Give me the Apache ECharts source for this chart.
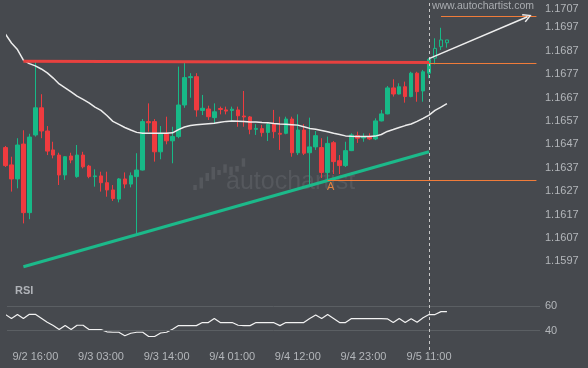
<!DOCTYPE html>
<html><head><meta charset="utf-8">
<script src="https://cdn.jsdelivr.net/npm/echarts@6/dist/echarts.min.js"></script>
<style>html,body{margin:0;padding:0;background:#46494e;}#c{width:588px;height:368px;}</style>
</head><body><div id="c"></div>
<script>
// ---- data ----
const tickLabels = ['9/2 16:00','9/3 03:00','9/3 14:00','9/4 01:00','9/4 12:00','9/4 23:00','9/5 11:00'];
const tickCandles = [5,16,27,38,49,60,71];
const priceTicks = [1.1597,1.1607,1.1617,1.1627,1.1637,1.1647,1.1657,1.1667,1.1677,1.1687,1.1697,1.1707];
const rsiLevels = [40,60];

const open = [1.16456,1.16382,1.16322,1.16471,1.16178,1.16510,1.16626,1.16527,1.16446,1.16424,
1.16339,1.16420,1.16332,1.16424,1.16377,1.16332,1.16335,1.16306,1.16275,1.16236,
1.16322,1.16300,1.16332,1.16360,1.16567,1.16567,1.16438,1.16517,1.16485,1.16503,
1.16638,1.16755,1.16759,1.16615,1.16621,1.16584,1.16623,1.16617,1.16615,1.16617,
1.16591,1.16587,1.16534,1.16537,1.16521,1.16556,1.16517,1.16517,1.16578,1.16434,
1.16531,1.16434,1.16459,1.16456,1.16350,1.16477,1.16400,1.16379,1.16443,1.16507,
1.16497,1.16503,1.16493,1.16570,1.16600,1.16711,1.16685,1.16716,1.16674,1.16774,
1.16698,1.16774,1.16838,1.16887,1.16916];
const close = [1.16379,1.16322,1.16467,1.16178,1.16501,1.16626,1.16527,1.16441,1.16424,1.16339,
1.16417,1.16403,1.16424,1.16374,1.16332,1.16335,1.16306,1.16275,1.16238,1.16322,
1.16300,1.16336,1.16360,1.16567,1.16562,1.16438,1.16517,1.16485,1.16503,1.16638,
1.16755,1.16759,1.16617,1.16624,1.16588,1.16609,1.16619,1.16612,1.16620,1.16592,
1.16587,1.16534,1.16538,1.16520,1.16556,1.16524,1.16513,1.16578,1.16434,1.16531,
1.16432,1.16459,1.16507,1.16350,1.16474,1.16396,1.16379,1.16443,1.16510,1.16496,
1.16501,1.16493,1.16570,1.16600,1.16711,1.16685,1.16716,1.16674,1.16774,1.16695,
1.16780,1.16833,1.16880,1.16916,1.16904];
const low = [1.16373,1.16268,1.16282,1.16132,1.16150,1.16503,1.16496,1.16424,1.16410,1.16296,
1.16318,1.16389,1.16327,1.16367,1.16325,1.16289,1.16268,1.16246,1.16228,1.16222,
1.16282,1.16286,1.16087,1.16358,1.16524,1.16396,1.16406,1.16470,1.16389,1.16496,
1.16626,1.16669,1.16588,1.16595,1.16574,1.16560,1.16598,1.16598,1.16570,1.16545,
1.16545,1.16513,1.16510,1.16503,1.16484,1.16496,1.16446,1.16513,1.16417,1.16424,
1.16424,1.16296,1.16446,1.16326,1.16318,1.16343,1.16343,1.16373,1.16441,1.16476,
1.16481,1.16488,1.16488,1.16568,1.16598,1.16674,1.16683,1.16648,1.16671,1.16652,
1.16652,1.16752,1.16812,1.16873,1.16883];
const high = [1.16463,1.16417,1.16496,1.16530,1.16515,1.16823,1.16684,1.16548,1.16481,1.16434,
1.16420,1.16434,1.16467,1.16438,1.16382,1.16363,1.16353,1.16353,1.16296,1.16326,
1.16350,1.16350,1.16432,1.16578,1.16645,1.16578,1.16548,1.16588,1.16545,1.16802,
1.16821,1.16774,1.16774,1.16681,1.16635,1.16645,1.16631,1.16631,1.16631,1.16631,
1.16698,1.16591,1.16556,1.16553,1.16564,1.16617,1.16588,1.16588,1.16588,1.16598,
1.16556,1.16584,1.16527,1.16496,1.16503,1.16484,1.16424,1.16481,1.16517,1.16524,
1.16517,1.16517,1.16581,1.16617,1.16719,1.16748,1.16731,1.16738,1.16780,1.16780,
1.16788,1.16838,1.16923,1.16968,1.16916];
const ma = [1.16941,1.16903,1.16875,1.16830,1.16815,1.16805,1.16792,1.16775,1.16753,1.16728,
1.16711,1.16694,1.16676,1.16662,1.16647,1.16629,1.16615,1.16593,1.16568,1.16555,
1.16542,1.16531,1.16521,1.16517,1.16517,1.16517,1.16517,1.16517,1.16519,1.16533,
1.16544,1.16550,1.16554,1.16556,1.16558,1.16560,1.16564,1.16568,1.16570,1.16569,
1.16567,1.16565,1.16565,1.16563,1.16562,1.16559,1.16557,1.16556,1.16554,1.16552,
1.16545,1.16538,1.16534,1.16529,1.16524,1.16517,1.16512,1.16506,1.16504,1.16503,
1.16503,1.16503,1.16505,1.16512,1.16525,1.16533,1.16542,1.16550,1.16557,1.16568,
1.16581,1.16595,1.16615,1.16629,1.16644];
const rsi = [53.2,49.9,53.2,49.9,53.4,53.4,50.1,46.8,44.1,40.8,
44.1,40.8,44.4,44.4,40.8,40.8,40.8,39.0,38.6,38.6,
35.7,37.8,38.6,38.6,35.1,35.1,38.0,38.6,41.1,44.1,
44.1,44.1,44.1,46.6,46.6,49.9,46.6,46.6,46.6,44.4,
44.1,44.1,46.6,46.6,46.6,46.5,44.1,46.6,46.6,46.6,
46.6,50.0,52.8,49.9,53.2,49.9,46.6,46.6,49.9,49.9,
49.9,49.9,49.9,49.9,49.7,46.6,49.9,46.6,49.8,46.8,
50.5,53.2,53.2,55.6,55.6];
const resistanceLine = [[3, 1.16825], [71, 1.16820]];
const supportLine = [[3, 1.15947], [71, 1.16438]];
const levelPrices = [1.17018, 1.16816, 1.16318];
const levelStarts = [73, 71, 54];
const levelEnd = 89;
const forecastArrow = [[71, 1.16836], [87.5, 1.17015]];
const breakoutIndex = 71;
const patternPoint = [54, 1.16318];

// ---- styling ----
const BG = '#46494e', UP = '#17b987', DOWN = '#ef3b3f', TXT = '#b3b6ba';
const FONT = '"Liberation Sans", Arial, sans-serif';
const xMin = 0.25, xMax = 89.6;
const yMin = 1.158816, yMax = 1.170867;

const candleData = open.map((o, i) => {
  const item = { value: [i, o, close[i], low[i], high[i]] };
  if (i > breakoutIndex) item.itemStyle = { color: BG, color0: BG, borderColor: UP, borderColor0: DOWN };
  return item;
});

const wmBars = [[193.3,185,5],[199.5,177.5,11],[205.5,173,8],[211.5,167,12.5],[217.3,170,5],[223.3,164.3,8.5],[229.3,166.7,8.3],[235.3,166,5.7],[241.7,158.3,8.4]];
const graphics = wmBars.map(b => ({ type:'rect', z:0, silent:true, shape:{x:b[0], y:b[1], width:3.5, height:b[2]}, style:{fill:'#55585d'} }));
graphics.push({ type:'text', z:0, silent:true, left:226, top:170, style:{ text:'autochartist', fill:'#55585d', font:'25px ' + FONT } });
graphics.push({ type:'text', z:5, silent:true, right:54, top:1, style:{ text:'www.autochartist.com', fill:'#a9acb0', font:'10.5px ' + FONT } });
graphics.push({ type:'text', z:5, silent:true, left:15, top:285, style:{ text:'RSI', fill:'#b0b3b8', font:'bold 11px ' + FONT } });

const topTick = priceTicks[priceTicks.length - 1];
const chart = echarts.init(document.getElementById('c'), null, { renderer: 'canvas' });
const axisBase = { axisLine:{show:false}, axisTick:{show:false}, splitLine:{show:false} };
chart.setOption({
  backgroundColor: BG,
  animation: false,
  textStyle: { fontFamily: FONT },
  graphic: graphics,
  grid: [
    { left: 7, right: 48, top: 0, height: 282, outerBoundsMode: 'none' },
    { left: 7, right: 48, top: 282, height: 68, outerBoundsMode: 'none' }
  ],
  xAxis: [
    Object.assign({ type:'value', gridIndex:0, min:xMin, max:xMax, axisLabel:{show:false} }, axisBase),
    Object.assign({ type:'value', gridIndex:1, min:xMin, max:xMax,
      axisLabel:{ customValues: tickCandles, formatter: v => { const k = tickCandles.indexOf(Math.round(v)); return k >= 0 ? tickLabels[k] : ''; },
        color: TXT, fontSize: 11, margin: 1, fontFamily: FONT } }, axisBase)
  ],
  yAxis: [
    Object.assign({ type:'value', gridIndex:0, position:'right', min:yMin, max:yMax, scale:true,
      axisLabel:{ customValues: priceTicks,
        formatter: v => Math.abs(v - topTick) < 1e-6 ? '{t|' + v.toFixed(4) + '}' : v.toFixed(4),
        rich: { t: { color: TXT, fontSize: 11, fontFamily: FONT, padding: [10, 0, 0, 0] } },
        color: TXT, fontSize: 11, margin: 5, fontFamily: FONT } }, axisBase),
    Object.assign({ type:'value', gridIndex:1, position:'right', min:24, max:80,
      axisLabel:{ customValues: rsiLevels, formatter: v => String(Math.round(v)), color: TXT, fontSize: 11, margin: 5, fontFamily: FONT } }, axisBase)
  ],
  series: [
    { type:'candlestick', xAxisIndex:0, yAxisIndex:0, data:candleData, barWidth:4, clip:true, silent:true,
      itemStyle:{ color:UP, color0:DOWN, borderColor:UP, borderColor0:DOWN, borderWidth:1 },
      markLine:{ silent:true, symbol:'none', label:{show:false}, lineStyle:{ color:'#c8c8c8', type:[3,3], width:1 },
        data:[{ xAxis: breakoutIndex }] } },
    { type:'line', xAxisIndex:0, yAxisIndex:0, data: ma.map((v,i)=>[i,v]), showSymbol:false, silent:true, clip:true,
      lineStyle:{ color:'#ececec', width:1.5 } },
    { type:'line', xAxisIndex:0, yAxisIndex:0, data: resistanceLine, showSymbol:false, silent:true,
      lineStyle:{ color:'#e8413f', width:3 } },
    { type:'line', xAxisIndex:0, yAxisIndex:0, data: supportLine, showSymbol:false, silent:true,
      lineStyle:{ color:'#1cb98a', width:3 } },
    { type:'line', xAxisIndex:0, yAxisIndex:0, data: [], silent:true,
      markLine:{ silent:true, symbol:'none', label:{show:false}, lineStyle:{ color:'#f07c3a', type:'solid', width:1.2 },
        data: levelPrices.map((p,k)=>[{ coord:[levelStarts[k], p] }, { coord:[levelEnd, p] }]) },
      markPoint:{ silent:true, symbol:'circle', symbolSize:1, itemStyle:{color:'rgba(0,0,0,0)'},
        label:{ show:true, formatter:'A', color:'#e5813e', fontSize:11, fontFamily:FONT, offset:[3,7] },
        data:[{ coord: patternPoint }] } },
    { type:'line', xAxisIndex:0, yAxisIndex:0, data: [], silent:true,
      markLine:{ silent:true, symbol:['none','path://M5,0 L10,9 L8.6,9.9 L5,3 L1.4,9.9 L0,9 Z'], symbolSize:[9,9],
        label:{show:false}, lineStyle:{ color:'#eeeeee', type:'solid', width:1.5 },
        data:[[{ coord: forecastArrow[0] }, { coord: forecastArrow[1] }]] } },
    { type:'line', xAxisIndex:1, yAxisIndex:1, data: rsi.map((v,i)=>[i,v]), showSymbol:false, silent:true, clip:true,
      lineStyle:{ color:'#f2f2f2', width:1.2 },
      markLine:{ silent:true, symbol:'none', label:{show:false},
        data:[
          { yAxis: rsiLevels[0], lineStyle:{ color:'#5b5f63', type:'solid', width:1 } },
          { yAxis: rsiLevels[1], lineStyle:{ color:'#5b5f63', type:'solid', width:1 } },
          { xAxis: breakoutIndex, lineStyle:{ color:'#c8c8c8', type:[3,3], width:1 } }
        ] } }
  ]
});
</script></body></html>
